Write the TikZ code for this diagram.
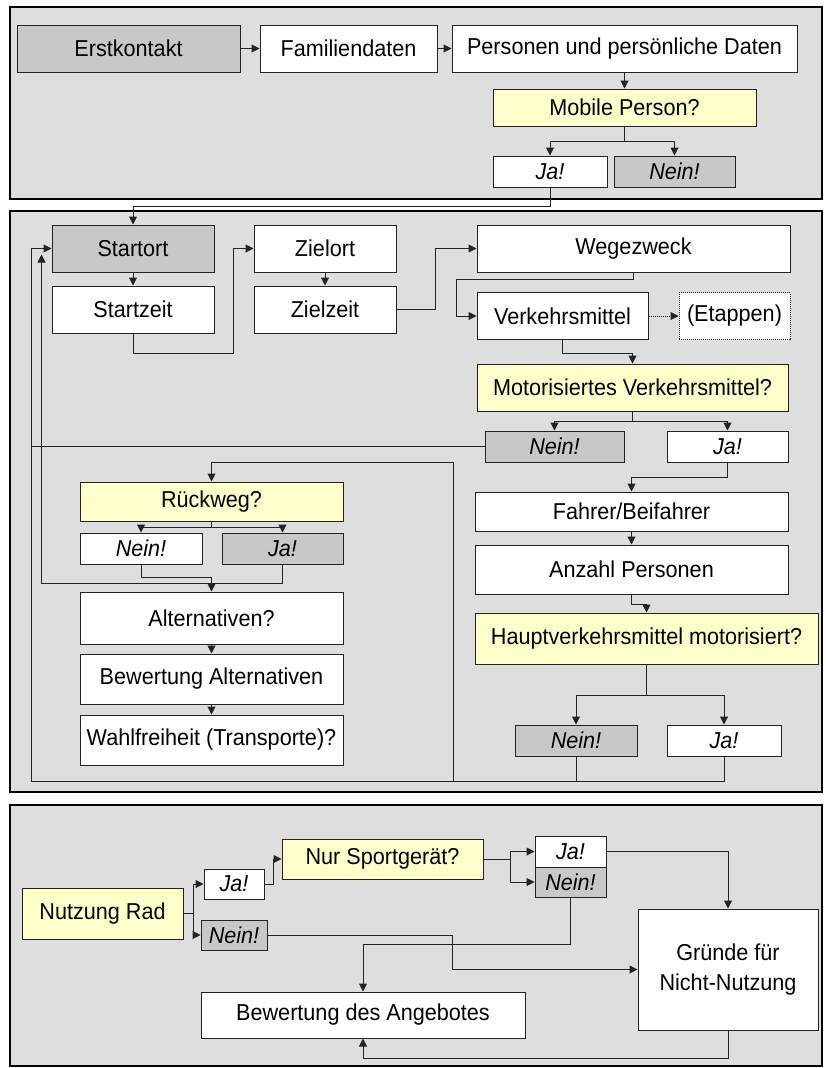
\documentclass[tikz,border=0pt]{standalone}
\usepackage{fontspec}
\setmainfont{Liberation Sans}[FakeStretch=0.94]
\usetikzlibrary{arrows.meta}
\definecolor{panelgrey}{RGB}{222,222,222}
\definecolor{boxgrey}{RGB}{200,200,200}
\definecolor{askyellow}{RGB}{255,255,204}
\definecolor{linegrey}{RGB}{35,35,35}
\begin{document}
\begin{tikzpicture}[x=1pt,y=-1pt,
    every node/.append style={font=\fontsize{23}{30}\selectfont, inner sep=0pt},
    box/.style={draw=linegrey, line width=1pt, fill=white},
    greybox/.style={box, fill=boxgrey},
    askbox/.style={box, fill=askyellow},
    answer/.style={font=\fontsize{23}{30}\selectfont\itshape},
    arr/.style={draw=linegrey, line width=1pt, -{Triangle[length=8pt,width=8pt]}},
    link/.style={draw=linegrey, line width=1pt},
    panel/.style={draw=black, line width=1.8pt, fill=panelgrey}]
    \path[use as bounding box] (0,0) rectangle (826,1068);
    \draw[panel] (10,7) rectangle (822,199);
    \draw[panel] (10,211) rectangle (822,792);
    \draw[panel] (10,805) rectangle (822,1066);
    % first contact
    \node[greybox, minimum width=223, minimum height=47] (erst) at (128.5,48.5) {Erstkontakt};
    \node[box, minimum width=177, minimum height=47] (fam) at (348.5,48.5) {Familiendaten};
    \node[box, minimum width=345, minimum height=47] (pers) at (624.5,48.5) {Personen und persönliche Daten};
    \node[askbox, minimum width=263, minimum height=37] (mobil) at (624.5,107.5) {Mobile Person?};
    \node[box, answer, minimum width=114, minimum height=31] (ja1) at (550,171.5) {Ja!};
    \node[greybox, answer, minimum width=121, minimum height=31] (nein1) at (674.5,171.5) {Nein!};
    % trips
    \node[greybox, minimum width=162, minimum height=47] (startort) at (133,248.5) {Startort};
    \node[box, minimum width=162, minimum height=47] (startzeit) at (133,309.5) {Startzeit};
    \node[box, minimum width=142, minimum height=47] (zielort) at (325,248.5) {Zielort};
    \node[box, minimum width=142, minimum height=47] (zielzeit) at (325,309.5) {Zielzeit};
    \node[box, minimum width=313, minimum height=47] (wegzweck) at (633.5,248.5) {Wegezweck};
    \node[box, minimum width=171, minimum height=47] (vkm) at (562.5,316) {Verkehrsmittel};
    \node[box, densely dotted, minimum width=111, minimum height=47] (etappen) at (734.5,316) {(Etappen)};
    \node[askbox, minimum width=311, minimum height=47] (motor) at (632.5,387.5) {Motorisiertes Verkehrsmittel?};
    \node[greybox, answer, minimum width=139, minimum height=31] (nein2) at (554.5,446.5) {Nein!};
    \node[box, answer, minimum width=121, minimum height=31] (ja2) at (727.5,446.5) {Ja!};
    \node[box, minimum width=313, minimum height=39] (fahrer) at (631.5,511.5) {Fahrer/Beifahrer};
    \node[box, minimum width=313, minimum height=49] (anzahl) at (631.5,569.5) {Anzahl Personen};
    \node[askbox, minimum width=343, minimum height=51] (haupt) at (646.5,638.5) {Hauptverkehrsmittel motorisiert?};
    \node[greybox, answer, minimum width=122, minimum height=31] (nein3) at (576,740.5) {Nein!};
    \node[box, answer, minimum width=114, minimum height=31] (ja3) at (724,740.5) {Ja!};
    \node[askbox, minimum width=263, minimum height=39] (rueck) at (211.5,501.5) {Rückweg?};
    \node[box, answer, minimum width=122, minimum height=31] (nein4) at (141,548.5) {Nein!};
    \node[greybox, answer, minimum width=121, minimum height=31] (ja4) at (282.5,548.5) {Ja!};
    \node[box, minimum width=263, minimum height=52] (altern) at (211.5,618) {Alternativen?};
    \node[box, minimum width=263, minimum height=50] (bewalt) at (211.5,679) {Bewertung Alternativen};
    \node[box, minimum width=263, minimum height=50] (wahl) at (211.5,740) {Wahlfreiheit (Transporte)?};
    % bicycle
    \node[askbox, minimum width=161, minimum height=51] (rad) at (102.5,913.5) {Nutzung Rad};
    \node[box, answer, minimum width=60, minimum height=30] (ja5) at (234,884) {Ja!};
    \node[greybox, answer, minimum width=66, minimum height=30] (nein5) at (234,935) {Nein!};
    \node[askbox, minimum width=201, minimum height=40] (sport) at (382.5,859) {Nur Sportgerät?};
    \node[box, answer, minimum width=71, minimum height=31] (ja6) at (570.5,851.5) {Ja!};
    \node[greybox, answer, minimum width=71, minimum height=30] (nein6) at (570.5,882) {Nein!};
    \node[box, align=center, minimum width=180, minimum height=121] (gruende) at (728,969.5) {Gründe für\\Nicht-Nutzung};
    \node[box, minimum width=324, minimum height=46] (bewang) at (363,1015) {Bewertung des Angebotes};
    % connectors, first contact
    \draw[arr] (erst) -- (fam);
    \draw[arr] (fam) -- (pers);
    \draw[arr] (pers) -- (mobil);
    \coordinate (mobilsplit) at (624.5,141);
    \draw[link] (mobil) -- (mobilsplit);
    \draw[arr] (mobilsplit) -| (ja1);
    \draw[arr] (mobilsplit) -| (nein1);
    \draw[arr] (ja1.south) -- ++(0,19) -| (startort.north);
    % connectors, trips
    \draw[arr] (startort) -- (startzeit);
    \draw[arr] (startzeit.south) -- ++(0,20) -| ([xshift=-20pt]zielort.west) -- (zielort.west);
    \draw[arr] (zielort) -- (zielzeit);
    \draw[arr] (zielzeit.east) -| ([xshift=-41pt]wegzweck.west) -- (wegzweck.west);
    \draw[arr] (wegzweck.south) -- ++(0,7) -| ([xshift=-20pt]vkm.west) -- (vkm.west);
    \draw[arr, densely dotted] (vkm) -- (etappen);
    \draw[arr] (vkm.south) -- ++(0,13) -| (motor.north);
    \coordinate (motorsplit) at (632.5,421);
    \draw[link] (motor) -- (motorsplit);
    \draw[arr] (motorsplit) -| (nein2);
    \draw[arr] (motorsplit) -| (ja2);
    \draw[arr] (nein2.west) -| ([xshift=-20pt]startort.west) -- (startort.west);
    \draw[arr] (ja2.south) -- ++(0,15) -| (fahrer.north);
    \draw[arr] (fahrer) -- (anzahl);
    \draw[arr] (anzahl.south) -- ++(0,10) -| (haupt.north);
    \coordinate (hauptsplit) at (646.5,695);
    \draw[link] (haupt) -- (hauptsplit);
    \draw[arr] (hauptsplit) -| (nein3);
    \draw[arr] (hauptsplit) -| (ja3);
    \draw[link] (nein3.south) -- ++(0,25) -| ([xshift=-20pt]startort.west);
    \coordinate (rueckin) at (453,462);
    \draw[arr] (ja3.south) -- ++(0,25) -| (rueckin) -| (rueck.north);
    \coordinate (rsplit) at (211.5,527);
    \draw[link] (rueck) -- (rsplit);
    \draw[arr] (rsplit) -| (nein4);
    \draw[arr] (rsplit) -| (ja4);
    \draw[arr] (nein4.south) -- ++(0,13) -| (altern.north);
    \draw[arr] (ja4.south) -- ++(0,19) -| ([xshift=-10pt,yshift=-6pt]startort.west);
    \draw[arr] (altern) -- (bewalt);
    \draw[arr] (bewalt) -- (wahl);
    % connectors, bicycle
    \coordinate (radsplit) at (193,913.5);
    \draw[link] (rad) -- (radsplit);
    \draw[arr] (radsplit) |- (ja5);
    \draw[arr] (radsplit) |- (nein5);
    \draw[arr] (ja5.east) -- ++(9,0) |- (sport);
    \coordinate (sportsplit) at (510,859);
    \draw[link] (sport) -- (sportsplit);
    \draw[arr] (sportsplit) |- (ja6);
    \draw[arr] (sportsplit) |- (nein6);
    \draw[arr] (ja6) -| (gruende);
    \draw[arr] (nein6.south) -- ++(0,47) -| (bewang.north);
    \draw[arr] (nein5.east) -| ([xshift=-185pt]gruende.west) -- (gruende.west);
    \draw[arr] (gruende.south) -- ++(0,28) -| (bewang.south);
\end{tikzpicture}
\end{document}
